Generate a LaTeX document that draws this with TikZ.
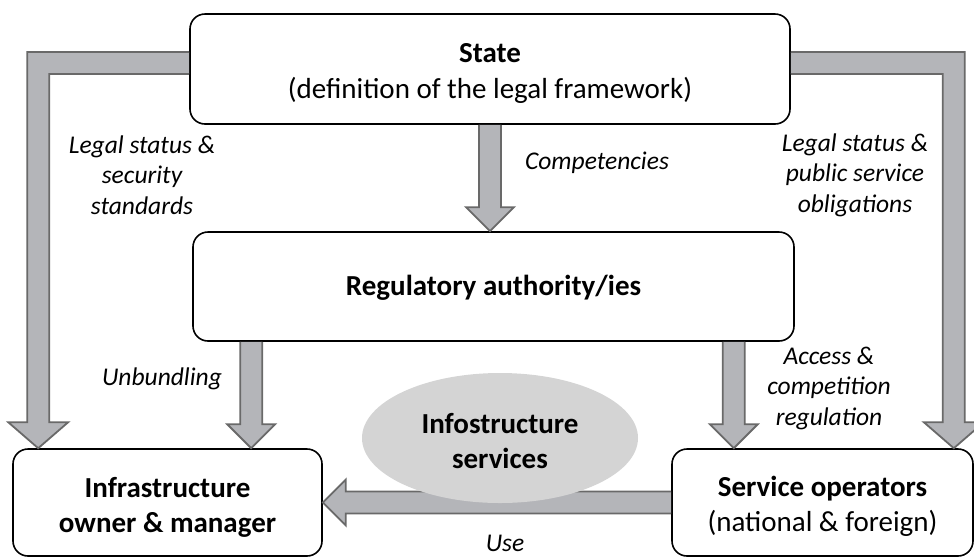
\documentclass[tikz,border=0pt]{standalone}
\usepackage{fontspec}
\setmainfont{Carlito}
\usepackage{tikz}
\usetikzlibrary{calc}
\usetikzlibrary{shapes.geometric}

\definecolor{arrowfill}{RGB}{180,181,185}
\definecolor{arrowline}{RGB}{105,105,105}
\definecolor{ellfill}{RGB}{212,212,212}

\newcommand{\downblock}[2]{%
  \draw[blockarrow] let \p1=(#1), \p2=(#2) in
    ({\x1-11pt},\y1) -- ({\x1-11pt},{\y2+24pt}) -- ({\x1-24pt},{\y2+24pt}) -- (\x1,\y2)
    -- ({\x1+24pt},{\y2+24pt}) -- ({\x1+11pt},{\y2+24pt}) -- ({\x1+11pt},\y1);}
\newcommand{\topgap}[1]{\rule{0pt}{#1}}

\begin{document}
\begin{tikzpicture}[x=1pt,y=-1pt,
    box/.style={draw,line width=1.6pt,rounded corners=15pt,align=center,inner sep=0pt,
      font=\fontsize{29}{36}\selectfont},
    lbl/.style={align=center,inner sep=0pt,font=\fontsize{25.5}{30.5}\selectfont\itshape},
    blockarrow/.style={draw=arrowline,fill=arrowfill,line width=1.8pt,line join=miter}]
    \useasboundingbox (0,0) rectangle (974,558);
    \node[box,minimum width=600pt,minimum height=110pt] (state) at (490,69)
        {\topgap{27pt}\textbf{State}\\(definition of the legal framework)};
    \node[box,minimum width=601pt,minimum height=109pt] (reg) at (493.5,286.5)
        {\topgap{22pt}\textbf{Regulatory authority/ies}};
    \node[box,minimum width=309pt,minimum height=107pt,font=\fontsize{29}{35}\selectfont] (infra) at (167.5,502.5)
        {\topgap{30pt}\textbf{Infrastructure}\\\textbf{owner \& manager}};
    \node[box,minimum width=301pt,minimum height=107pt,font=\fontsize{29}{35}\selectfont] (serv) at (822.5,502.5)
        {\topgap{27pt}\textbf{Service operators}\\(national \& foreign)};
    % block arrows
    \downblock{state.south}{reg.north}
    \downblock{$(reg.south west)+(59,0)$}{infra.north}
    \downblock{$(reg.south east)+(-61,0)$}{serv.north}
    \draw[blockarrow] let \p1=([yshift=6pt]state.west), \p2=($(infra.north west)+(26,0)$) in
        (\x1,{\y1+11pt}) -- ({\x2-11pt},{\y1+11pt}) -- ({\x2-11pt},{\y2+26pt}) -- ({\x2-30pt},{\y2+26pt})
        -- (\x2,\y2) -- ({\x2+30pt},{\y2+26pt}) -- ({\x2+11pt},{\y2+26pt}) -- ({\x2+11pt},{\y1-11pt})
        -- (\x1,{\y1-11pt});
    \draw[blockarrow] let \p1=([yshift=6pt]state.east), \p2=($(serv.north east)+(-20,0)$) in
        (\x1,{\y1+11pt}) -- ({\x2+11pt},{\y1+11pt}) -- ({\x2+11pt},{\y2+26pt}) -- ({\x2+30pt},{\y2+26pt})
        -- (\x2,\y2) -- ({\x2-30pt},{\y2+26pt}) -- ({\x2-11pt},{\y2+26pt}) -- ({\x2-11pt},{\y1-11pt})
        -- (\x1,{\y1-11pt});
    \draw[blockarrow] let \p1=(serv.west), \p2=(infra.east) in
        (\x1,{\y1+11pt}) -- ({\x2+23pt},{\y1+11pt}) -- ({\x2+23pt},{\y1+23pt}) -- (\x2,\y1)
        -- ({\x2+23pt},{\y1-23pt}) -- ({\x2+23pt},{\y1-11pt}) -- (\x1,{\y1-11pt});
    \node[ellipse,fill=ellfill,minimum width=276pt,minimum height=130pt,inner sep=0pt,align=center,
        font=\fontsize{29}{35}\selectfont\bfseries] (info) at (500,438) {\topgap{26pt}Infostructure\\services};
    % labels
    \node[lbl] (lsec) at (142,175) {Legal status \&\\security\\standards};
    \node[lbl] (comp) at (597,163) {Competencies};
    \node[lbl] (lpub) at (855,175) {Legal status \&\\public service\\obligations};
    \node[lbl] (unb) at (162,379) {Unbundling};
    \node[lbl] (acc) at (829,388) {Access \&\\competition\\regulation};
    \node[lbl] (use) at (505,543) {Use};
\end{tikzpicture}
\end{document}
